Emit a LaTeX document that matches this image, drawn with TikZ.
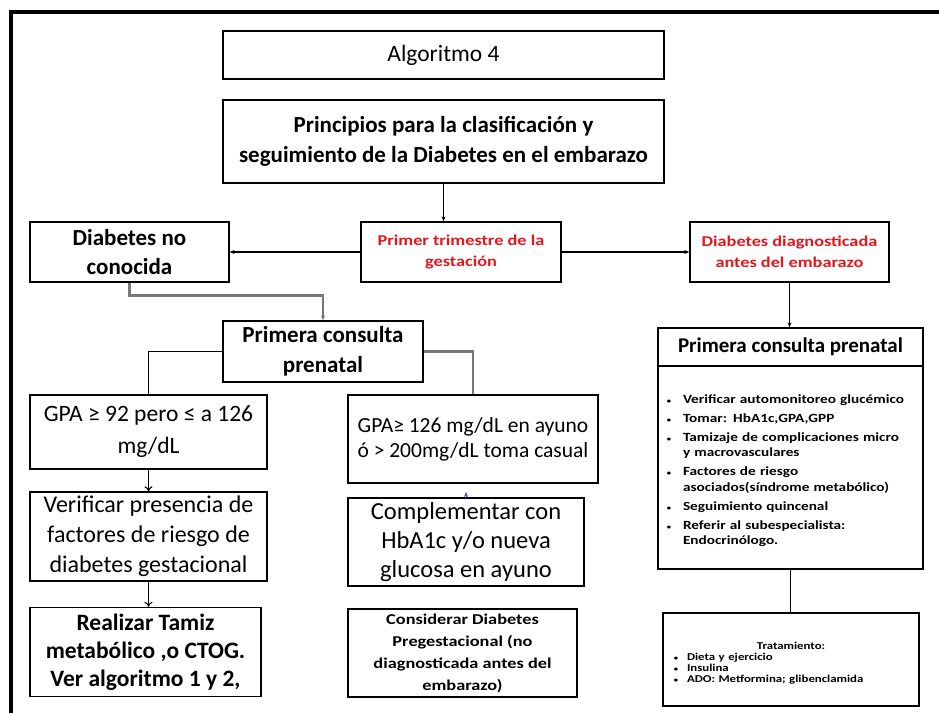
\documentclass[tikz,border=0pt]{standalone}
\usepackage{fontspec}
\setmainfont{Carlito}
\newfontfamily\widefont[FakeStretch=1.22]{Carlito}
\usepackage{enumitem}
\usetikzlibrary{arrows.meta}
\definecolor{alertred}{RGB}{228,22,28}
\definecolor{linkgrey}{RGB}{120,120,120}
\newcommand{\fsz}[2]{\fontsize{#1}{#2}\selectfont}
\newcommand{\smallbul}{{\fsz{7}{7}\textbullet}}
\tikzset{
  box/.style={draw=black, line width=1.3pt, inner sep=4pt, align=center},
  redtxt/.style={text=alertred, font=\widefont\fsz{15}{21}\bfseries},
  link/.style={draw=black, line width=1.1pt},
  greylink/.style={draw=linkgrey, line width=2.6pt},
  arr/.style={-{Stealth[length=5pt,width=4pt]}},
  openarr/.style={-{To[length=5pt,width=8pt]}},
}
\begin{document}
\begin{tikzpicture}[x=1pt,y=-1pt]
            \useasboundingbox (0,0) rectangle (939,713);
            \draw[line width=4pt] (11,713) -- (11,12) -- (939,12);

            \node[box, minimum width=441, minimum height=48, font=\fsz{23.5}{26}] (alg) at (443.5,55) {Algoritmo 4};
            \node[box, minimum width=441, minimum height=83, font=\fsz{23}{30}\bfseries] (prin) at (443.5,141.5) {Principios para la clasificación y\\seguimiento de la Diabetes en el embarazo};
            \node[box, minimum width=199, minimum height=60, font=\fsz{23}{29}\bfseries] (nocon) at (129.5,252) {Diabetes no\\conocida};
            \node[box, redtxt, minimum width=200, minimum height=60] (trim) at (461,252) {Primer trimestre de la\\gestación};
            \node[box, redtxt, minimum width=199, minimum height=60] (diag) at (789.5,252) {Diabetes diagnosticada\\antes del embarazo};
            \node[box, minimum width=200, minimum height=61, font=\fsz{23}{30}\bfseries] (pc1) at (323,351.5) {Primera consulta\\prenatal};
            \node[box, minimum width=237, minimum height=74, font=\fsz{23.5}{32}] (gpa1) at (148.5,432) {GPA ≥ 92 pero ≤ a 126\\mg/dL};
            \node[box, minimum width=237, minimum height=89, font=\fsz{24}{30}] (verif) at (148.5,536.5) {Verificar presencia de\\factores de riesgo de\\diabetes gestacional};
            \node[box, minimum width=231, minimum height=89, font=\fsz{23.5}{28}\bfseries] (tamiz) at (145.5,652) {Realizar Tamiz\\metabólico ,o  CTOG.\\Ver algoritmo 1 y 2,};
            \node[box, minimum width=250, minimum height=88, font=\fsz{21.5}{25}] (gpa2) at (473,439) {GPA≥ 126 mg/dL en ayuno\\ó > 200mg/dL toma casual};
            \node[box, minimum width=236, minimum height=88, font=\fsz{24.5}{29}] (compl) at (466,542) {Complementar con\\HbA1c y/o nueva\\glucosa en ayuno};
            \node[box, minimum width=229, minimum height=88, font=\widefont\fsz{15}{22}\bfseries] (consid) at (462.5,653) {Considerar Diabetes\\Pregestacional  (no\\diagnosticada  antes del\\embarazo)};
            \node[box, minimum width=265, minimum height=38, font=\fsz{21}{22}\bfseries] (pchead) at (790.5,347) {Primera consulta prenatal};
            \node[box, minimum width=265, minimum height=203, inner sep=5pt, text width=255, align=left, font=\widefont\fsz{12.5}{15.5}\bfseries] (pcbody) at (790.5,467.5) {%
              \begin{itemize}[label=\smallbul, leftmargin=20pt, labelsep=12pt, topsep=0pt, partopsep=0pt, parsep=0pt, itemsep=3.5pt]
                \item Verificar automonitoreo glucémico
                \item Tomar: HbA1c,GPA,GPP
                \item Tamizaje de complicaciones  micro\newline y macrovasculares
                \item Factores de riesgo\newline asociados(síndrome  metabólico)
                \item Seguimiento quincenal
                \item Referir al subespecialista:\newline Endocrinólogo.
              \end{itemize}};
            \node[box, minimum width=256, minimum height=93, inner sep=5pt, text width=246, align=left, font=\widefont\fsz{10.5}{11}\bfseries] (trat) at (791,659.5) {%
              {\centering\rule{0pt}{15pt}Tratamiento:\par}
              \begin{itemize}[label=\smallbul, leftmargin=19pt, labelsep=9pt, topsep=0pt, partopsep=0pt, parsep=0pt, itemsep=0pt]
                \item Dieta  y ejercicio
                \item Insulina
                \item ADO: Metformina; glibenclamida
              \end{itemize}};
            \coordinate (stub) at (466,492);

            %Archi

            \draw[link, arr] (prin.south) -- (prin.south |- trim.north);
            \draw[link, arr] (trim) edge (nocon);
            \draw[link, arr] (trim) edge (diag);
            \draw[link, arr] (diag.south) -- (diag.south |- pchead.north);
            \draw[greylink, arr] (nocon.south) -- ++(0,13) -| (pc1.north);
            \draw[link] (pc1.west) -| (gpa1.north);
            \draw[greylink] (pc1.east) -| (gpa2.north);
            \draw[link, openarr] (gpa1.south) -- (verif.north);
            \draw[link, openarr] (verif.south) -- (verif.south |- tamiz.north);
            \draw[draw=blue!40!gray, line width=1pt, arr] (compl.north) -- (stub);
            \draw[link] (pcbody.south) -- (pcbody.south |- trat.north);
        \end{tikzpicture}
\end{document}
